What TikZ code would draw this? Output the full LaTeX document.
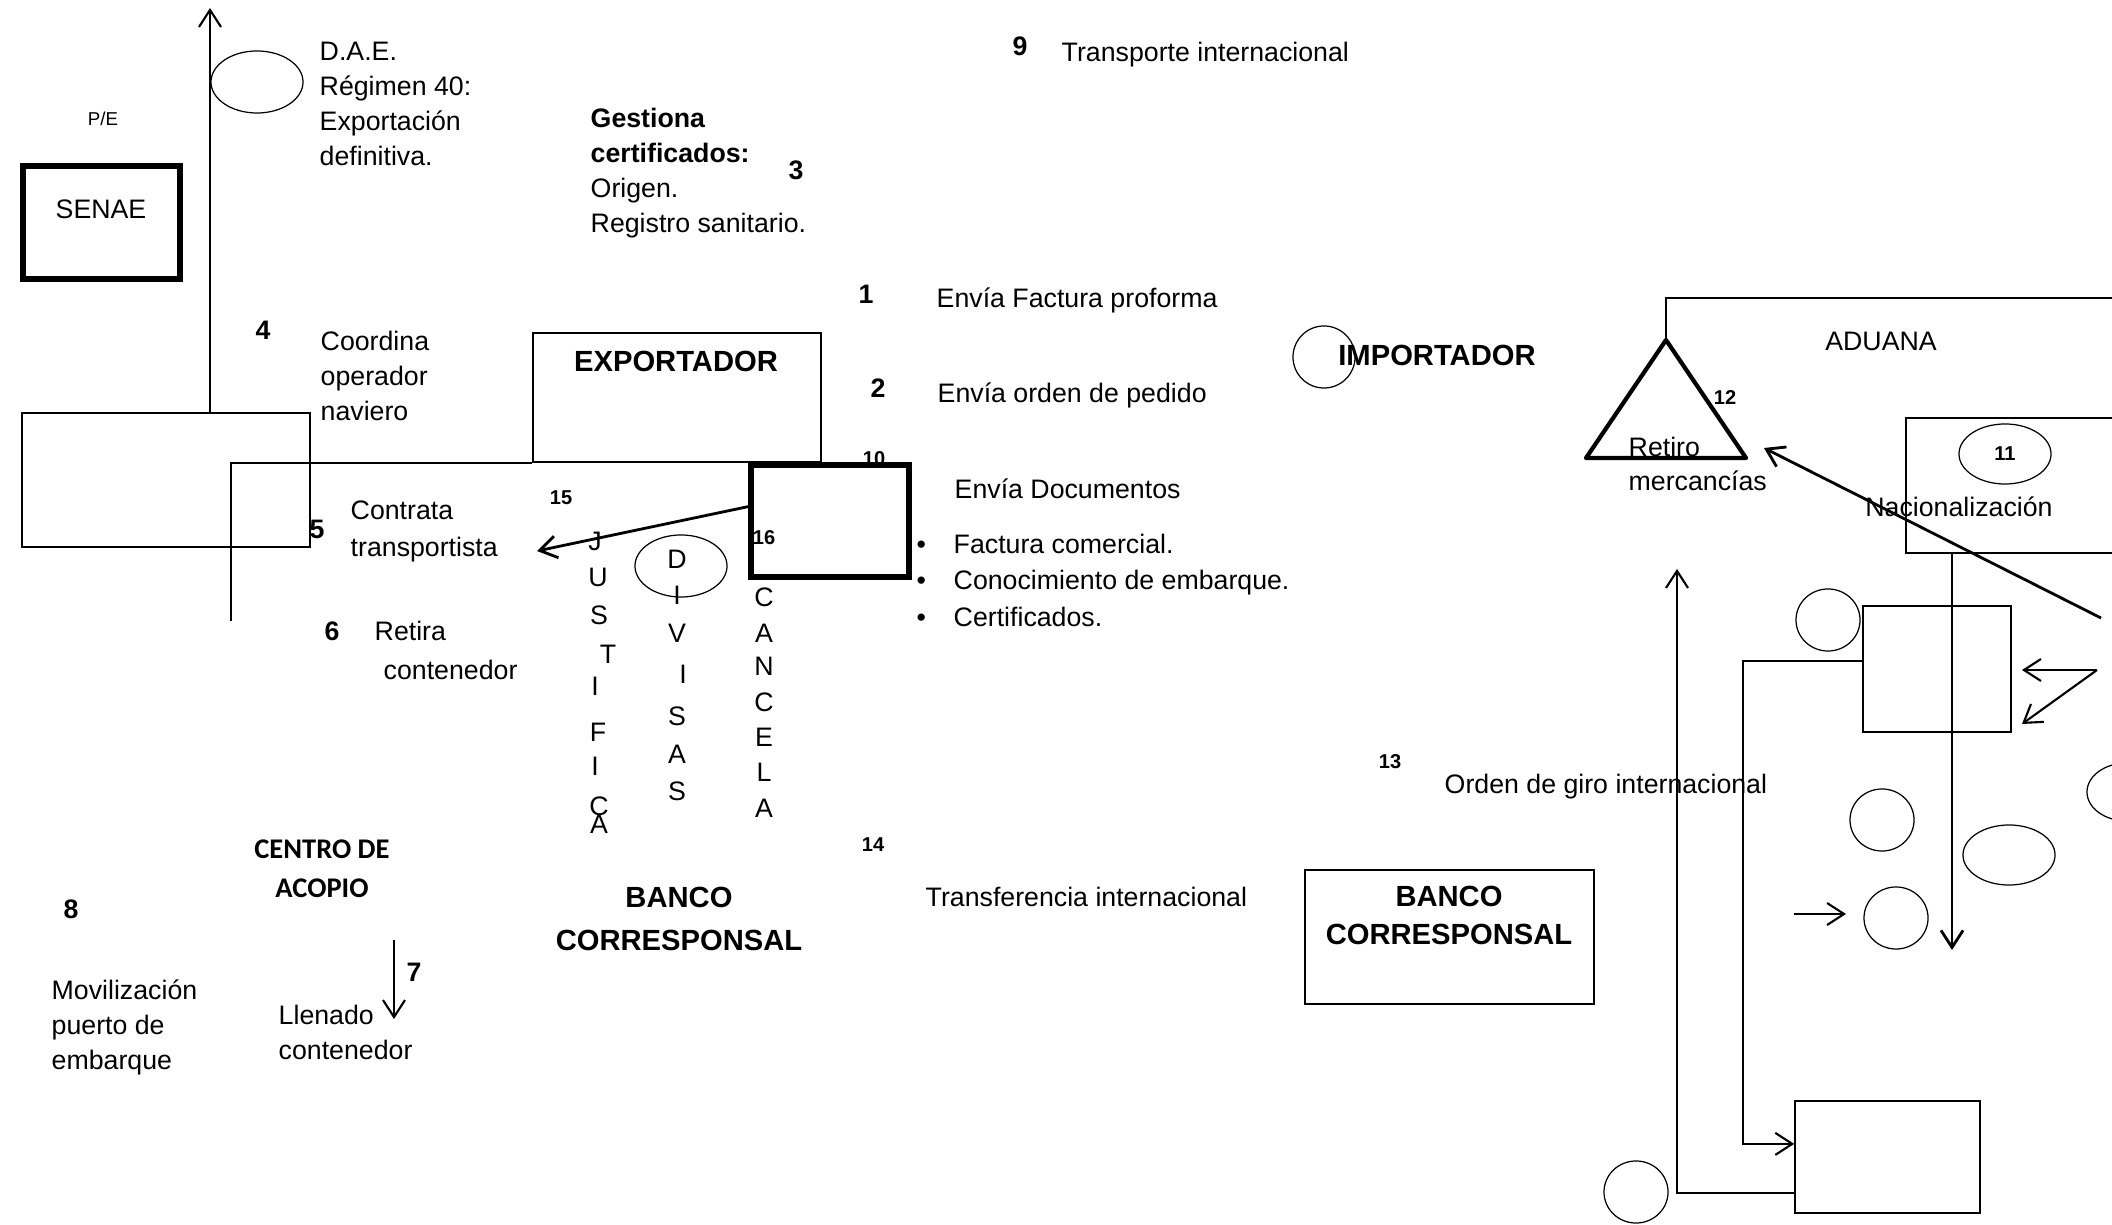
\documentclass[tikz,border=0pt]{standalone}
\usepackage{fontspec}
\setmainfont{Liberation Sans}
\newfontfamily\calib{Carlito}
\usetikzlibrary{arrows.meta,shapes.geometric}

\begin{document}
\begin{tikzpicture}[
    x=0.01cm, y=-0.01cm,
    txt/.style={font=\fontsize{7.6}{10}\selectfont, inner sep=0pt, align=left},
    num/.style={font=\fontsize{7.6}{9}\selectfont\bfseries, inner sep=0pt},
    snum/.style={font=\fontsize{5.7}{7}\selectfont\bfseries, inner sep=0pt},
    ttl/.style={font=\fontsize{8.3}{12.2}\selectfont\bfseries, inner sep=0pt, align=center},
    box/.style={draw, line width=0.4pt, inner sep=0pt},
    tbox/.style={draw, line width=1.5pt, inner sep=0pt},
    oval/.style={draw, ellipse, line width=0.35pt, inner sep=0pt},
    arr/.style={line width=0.6pt, -{Straight Barb[length=1.7mm,width=2.2mm]}},
  ]
  \path[use as bounding box, clip] (0,0) rectangle (2112,1225);

  \node[tbox, minimum width=1.57cm, minimum height=1.13cm] (senae) at (101.5,222.5) {};
  \node[box, minimum width=2.88cm, minimum height=1.34cm] (lbox) at (166,480) {};
  \node[box, minimum width=2.88cm, minimum height=1.29cm] (exp) at (677,397.5) {};
  \node[box, minimum width=2.89cm, minimum height=1.34cm] (bcor) at (1449.5,937) {};
  \node[box, minimum width=2.54cm, minimum height=1.35cm] (nac) at (2033,485.5) {};
  \node[box, minimum width=1.48cm, minimum height=1.26cm] (mbox) at (1937,669) {};
  \node[box, minimum width=1.85cm, minimum height=1.12cm] (bbox) at (1887.5,1157) {};
  \node[snum] (n10) at (874,459) {10};
  \node[tbox, minimum width=1.58cm, minimum height=1.12cm] (docs) at (830,521) {};
  \node[snum] (n16) at (764,538) {16};

  \node[oval, minimum width=0.92cm, minimum height=0.62cm] (ovdae) at (257,82) {};
  \node[oval, minimum width=0.62cm, minimum height=0.62cm] (ovimp) at (1324,357) {};
  \node[oval, minimum width=0.92cm, minimum height=0.62cm] (ovdiv) at (681,566) {};
  \node[oval, snum, minimum width=0.92cm, minimum height=0.60cm] (ov11) at (2005,454) {11};
  \node[oval, minimum width=0.64cm, minimum height=0.62cm] (ovmid) at (1828,620) {};
  \node[oval, minimum width=0.64cm, minimum height=0.62cm] (ovbl) at (1636,1192) {};
  \node[oval, minimum width=0.64cm, minimum height=0.62cm] (ova) at (1882,820) {};
  \node[oval, minimum width=0.92cm, minimum height=0.60cm] (ovb) at (2009,855) {};
  \node[oval, minimum width=0.64cm, minimum height=0.62cm] (ovc) at (1896,918) {};
  \node[oval, minimum width=0.80cm, minimum height=0.58cm] (ovr) at (2127,792) {};

  \node[txt] (senaet) at (101,209) {SENAE};
  \node[txt, font=\fontsize{5.3}{6}\selectfont] (pe) at (103,119) {P/E};
  \node[ttl] (expt) at (676,361) {EXPORTADOR};
  \node[ttl] (impt) at (1437,355) {IMPORTADOR};
  \node[ttl] (bcol) at (679,918.5) {BANCO\\CORRESPONSAL};
  \node[ttl, font=\fontsize{8.3}{10.8}\selectfont\bfseries] (bcort) at (1449,915) {BANCO\\CORRESPONSAL};
  \node[font=\calib\fontsize{8.1}{11.1}\selectfont\bfseries, align=center, inner sep=0pt] (acop) at (322,868.5) {CENTRO DE\\ACOPIO};
  \node[txt] (adu) at (1881,341) {ADUANA};
  \node[txt] (nact) at (1959,507) {Nacionalización};

  \node[txt, anchor=north west] (dae) at (319,41) {D.A.E.\\Régimen 40:\\Exportación\\definitiva.};
  \node[txt, anchor=north west] (gest) at (590,107) {{\bfseries Gestiona}\\{\bfseries certificados:}\\Origen.\\Registro sanitario.};
  \node[txt, anchor=north west] (coord) at (320,330) {Coordina\\operador\\naviero};
  \node[txt, anchor=north west, font=\fontsize{7.6}{10.5}\selectfont] (contr) at (350,500) {Contrata\\transportista};
  \node[txt, anchor=west] (retira) at (374,631) {Retira};
  \node[txt, anchor=west] (retcont) at (383,670) {contenedor};
  \node[txt, anchor=north west] (movil) at (51,979) {Movilización\\puerto de\\embarque};
  \node[txt, anchor=north west] (llen) at (278,1004) {Llenado\\contenedor};
  \node[txt, anchor=north west, font=\fontsize{7.6}{9.8}\selectfont] (retm) at (1628,436) {Retiro\\mercancías};
  \node[txt, anchor=west] (transp) at (1061,55) {Transporte internacional};
  \node[txt, anchor=west] (fact) at (936,300) {Envía Factura proforma};
  \node[txt, anchor=west] (orden) at (937,395) {Envía orden de pedido};
  \node[txt, anchor=west] (envdoc) at (954,489) {Envía Documentos};
  \node[txt, anchor=north west, font=\fontsize{7.6}{10.4}\selectfont] (lista) at (916,533)
    {\makebox[0.37cm][l]{•}Factura comercial.\\\makebox[0.37cm][l]{•}Conocimiento de embarque.\\\makebox[0.37cm][l]{•}Certificados.};
  \node[txt, anchor=west] (transf) at (925,897) {Transferencia internacional};
  \node[txt, anchor=west] (giro) at (1444,787) {Orden de giro internacional};

  \foreach \t/\x/\y in {1/866/294, 2/878/388, 3/796/170, 4/263/330, 5/317/529,
    6/332/631, 7/414/972, 8/71/909, 9/1020/46}
    \node[num] (n\t) at (\x,\y) {\t};
  \foreach \t/\x/\y in {12/1725/398, 13/1390/762, 14/873/845, 15/561/498}
    \node[snum] (n\t) at (\x,\y) {\t};

  \foreach \l/\x/\y [count=\i] in {J/595/541, U/598/577, S/599/615, T/608/654, I/595/686,
    F/598/732, I/595/766, C/599/806, A/599/824}
    \node[txt] (jus\i) at (\x,\y) {\l};
  \foreach \l/\x/\y [count=\i] in {D/677/559, I/677/595, V/677/633, I/683/674, S/677/716,
    A/677/754, S/677/791}
    \node[txt] (div\i) at (\x,\y) {\l};
  \foreach \l/\y [count=\i] in {C/597, A/633, N/666, C/702, E/737, L/772, A/808}
    \node[txt] (can\i) at (764,\y) {\l};

  \coordinate (atop) at (210,8);
  \draw[arr] (lbox.north -| atop) -- (atop);
  \coordinate (lcorner) at (231,621);
  \draw[line width=0.6pt] (exp.south west) -| (lcorner);
  \coordinate (a15) at (537,551);
  \draw[arr, line width=0.8pt] (docs.170) -- (a15);
  \coordinate (a7s) at (394,940);
  \coordinate (a7e) at (394,1019);
  \draw[arr] (a7s) -- (a7e);

  \coordinate (apex) at (1666,340);
  \draw[line width=1.2pt, line join=round] (apex) -- (1586,458) -- (1746,458) -- cycle;
  \coordinate (adur) at (2112,298);
  \draw[line width=0.4pt] (apex) |- (adur);
  \coordinate (lgs) at (2101,618);
  \coordinate (lge) at (1764,448);
  \draw[arr, line width=0.8pt] (lgs) -- (lge);
  \coordinate (dwn) at (1952,950);
  \draw[arr, line width=0.8pt] (nac.south -| dwn) -- (dwn);
  \coordinate (mbend) at (1743,900);
  \draw[arr] (mbox.174) -| (mbend) |- (bbox.172);
  \coordinate (upt) at (1677,569);
  \draw[arr] (bbox.201) -| (upt);
  \coordinate (fork) at (2097,670);
  \coordinate (fka) at (2022,670);
  \coordinate (fkb) at (2022,724);
  \draw[arr] (fork) -- (fka);
  \draw[arr] (fork) -- (fkb);
  \coordinate (sas) at (1794,914);
  \coordinate (sae) at (1846,914);
  \draw[arr] (sas) -- (sae);
\end{tikzpicture}
\end{document}
